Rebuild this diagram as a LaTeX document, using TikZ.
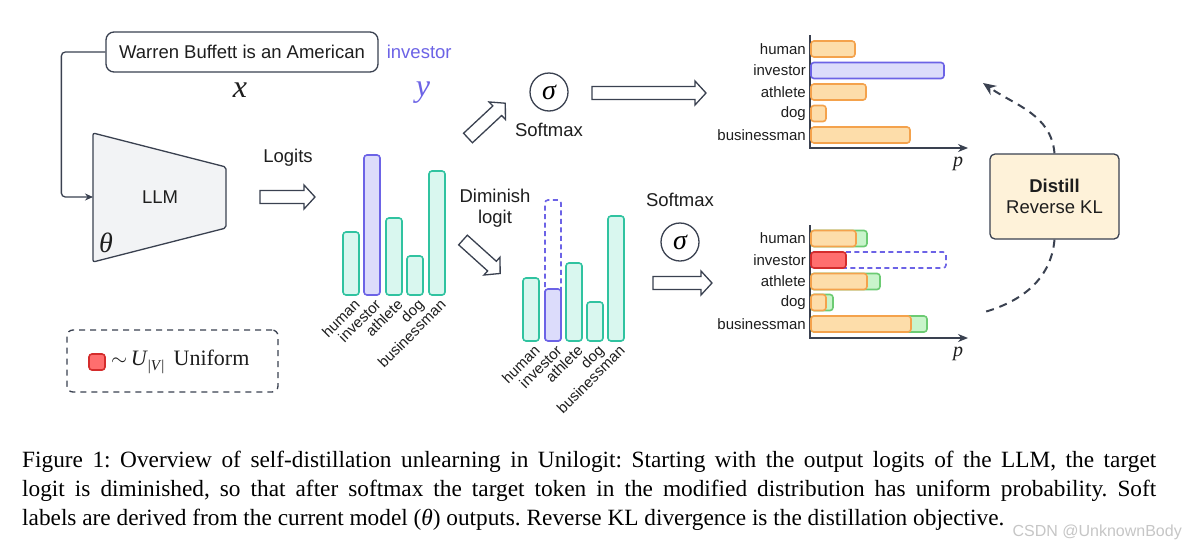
\documentclass[tikz,border=0pt]{standalone}
\usepackage{fontspec}
\setmainfont{Liberation Serif}
\setsansfont{Liberation Sans}
\usetikzlibrary{arrows.meta,positioning}
\definecolor{Ink}{HTML}{3A4150}
\definecolor{TextInk}{HTML}{1E1E1E}
\definecolor{TealLine}{HTML}{30C3A0}
\definecolor{TealFill}{HTML}{D9F7EF}
\definecolor{VioletLine}{HTML}{6C63E6}
\definecolor{VioletFill}{HTML}{DCDCFB}
\definecolor{OrangeLine}{HTML}{F4A24C}
\definecolor{OrangeFill}{HTML}{FDDDAA}
\definecolor{GreenLine}{HTML}{6CCB73}
\definecolor{GreenFill}{HTML}{C9F4CB}
\definecolor{RedLine}{HTML}{D42C2C}
\definecolor{RedFill}{HTML}{FF6E6E}
\definecolor{DistillFill}{HTML}{FEF2D9}
\definecolor{LLMFill}{HTML}{F2F3F5}
\tikzset{
  lab/.style={font=\sffamily\fontsize{18.5}{21}\selectfont, text=TextInk, inner sep=0pt, align=center},
  barlab/.style={font=\sffamily\fontsize{15}{16}\selectfont, text=TextInk, inner sep=0pt},
  varlab/.style={font=\itshape\fontsize{32}{34}\selectfont, text=TextInk, inner sep=0pt},
  bar/.style={line width=1.6pt, rounded corners=3pt},
  tealbar/.style={bar, draw=TealLine, fill=TealFill},
  violetbar/.style={bar, draw=VioletLine, fill=VioletFill},
  orangebar/.style={bar, draw=OrangeLine, fill=OrangeFill},
  greenbar/.style={bar, draw=GreenLine, fill=GreenFill},
  redbar/.style={bar, draw=RedLine, fill=RedFill},
  ghostbar/.style={bar, draw=VioletLine, dash pattern=on 5pt off 3.5pt},
  hollowline/.style={draw=Ink, fill=white, line width=1.3pt, line join=miter},
  pics/blockarrow/.style={code={
    \draw[hollowline] (0,-6.5) -- (#1-11,-6.5) -- (#1-11,-12) -- (#1,0) -- (#1-11,12)
      -- (#1-11,6.5) -- (0,6.5) -- cycle;}},
  sigmacirc/.style={circle, draw=Ink, line width=1.3pt, minimum size=38pt, inner sep=0pt,
    font=\itshape\fontsize{28}{30}\selectfont},
  promptbox/.style={draw=Ink, line width=1.3pt, rounded corners=8pt, minimum width=272pt, minimum height=40pt},
  distillbox/.style={draw=Ink, line width=1.3pt, fill=DistillFill, rounded corners=5pt,
    minimum width=129pt, minimum height=85pt},
  legendbox/.style={draw=Ink, line width=1.3pt, dash pattern=on 6pt off 5pt, rounded corners=6pt,
    minimum width=211pt, minimum height=62pt},
  axisline/.style={draw=Ink, line width=1.2pt},
  feedline/.style={draw=Ink, line width=1.3pt, rounded corners=4pt, -{Stealth[length=8pt,width=7pt]}},
  dasharc/.style={draw=Ink, line width=2pt, dash pattern=on 8pt off 6pt},
}
\begin{document}
\begin{tikzpicture}[x=1pt, y=-1pt]
  \useasboundingbox[fill=white] (0,0) rectangle (1186,552);
  % input prompt and LLM
  \node[promptbox, lab] (prompt) at (242,52) {Warren Buffett is an American};
  \node[lab, text=VioletLine, right=8pt of prompt] (target) {investor};
  \node[varlab] (xvar) at (240,90) {x};
  \node[varlab, text=VioletLine] (yvar) at (423,93) {y};
  \draw[draw=Ink, fill=LLMFill, line width=1.3pt, rounded corners=2pt]
    (93,133) -- (226,167) -- (226,228) -- (93,262) -- cycle;
  \node[lab] (llm) at (160,197) {LLM};
  \node[varlab, font=\itshape\fontsize{28}{30}\selectfont] (theta) at (106,243) {θ};
  \coordinate (llmin) at (93,197);
  \draw[feedline] (prompt.west) -- ++(-44,0) |- (llmin);
  % logits
  \node[lab] (logits) at (288,158) {Logits};
  \pic (arrlog) at (260,197) {blockarrow=55};
  \foreach \xl/\top/\sty/\lab in {343/232/tealbar/human, 364/155/violetbar/investor,
      386/218/tealbar/athlete, 407/256/tealbar/dog, 429/171/tealbar/businessman}{
    \draw[\sty] (\xl,295) rectangle (\xl+16,\top);
    \node[barlab, rotate=45, anchor=north east] (lg-\lab) at (\xl+10,298) {\lab};
  }
  % diminished logits
  \pic[rotate=-42] (arrdim) at (463,240) {blockarrow=50};
  \node[lab] (diminish) at (495,208) {Diminish\\logit};
  \draw[ghostbar] (545,341) rectangle (561,200);
  \foreach \xl/\top/\sty/\lab in {523/278/tealbar/human, 545/289/violetbar/investor,
      566/263/tealbar/athlete, 587/302/tealbar/dog, 608/216/tealbar/businessman}{
    \draw[\sty] (\xl,341) rectangle (\xl+16,\top);
    \node[barlab, rotate=45, anchor=north east] (dm-\lab) at (\xl+10,344) {\lab};
  }
  % softmax of the teacher logits
  \pic[rotate=43] (arrsoft) at (468,138) {blockarrow=51};
  \node[sigmacirc] (sigtop) at (549,92) {σ};
  \node[lab] (softtop) at (549,130) {Softmax};
  \pic (arrtop) at (592,93) {blockarrow=114};
  \draw[axisline, -{Stealth[length=10pt,width=8pt]}] (810,35) |- (968,148);
  \node[varlab, font=\itshape\fontsize{20}{22}\selectfont] (ptop) at (958,164) {p};
  \foreach \lab/\yc/\xr/\sty in {human/49/855/orangebar, investor/70.5/944/violetbar,
      athlete/92/866/orangebar, dog/113.5/826/orangebar, businessman/135/910/orangebar}{
    \draw[\sty] (811,\yc-8) rectangle (\xr,\yc+8);
    \node[barlab, anchor=east] (tp-\lab) at (806,\yc) {\lab};
  }
  % softmax of the diminished logits
  \node[lab] (softbot) at (680,200) {Softmax};
  \node[sigmacirc] (sigbot) at (680,242) {σ};
  \pic (arrbot) at (653,283) {blockarrow=59};
  \draw[axisline, -{Stealth[length=10pt,width=8pt]}] (810,225) |- (968,338);
  \node[varlab, font=\itshape\fontsize{20}{22}\selectfont] (pbot) at (958,354) {p};
  \foreach \lab/\yc/\xo/\xg in {human/238.5/856/867, athlete/281.5/867/880,
      dog/302.5/826/833, businessman/324/911/927}{
    \draw[greenbar] (811,\yc-8) rectangle (\xg,\yc+8);
    \draw[orangebar] (811,\yc-8) rectangle (\xo,\yc+8);
  }
  \draw[ghostbar] (811,252) rectangle (946,268);
  \draw[redbar] (811,252) rectangle (846,268);
  \foreach \lab/\yc in {human/238.5, investor/260, athlete/281.5, dog/302.5, businessman/324}
    \node[barlab, anchor=east] (bt-\lab) at (806,\yc) {\lab};
  % distillation
  \node[distillbox, lab] (distill) at (1054.5,196.5) {\textbf{Distill}\\Reverse KL};
  \coordinate (teacherend) at (983,83);
  \coordinate (studentend) at (981,313);
  \draw[dasharc, -{Stealth[length=13pt,width=11pt]}] (distill.north) to[out=95, in=-35] (teacherend);
  \draw[dasharc] (distill.south) to[out=-95, in=15] (studentend);
  % legend
  \node[legendbox] (legend) at (172.5,361) {};
  \node[redbar, minimum size=16pt, inner sep=0pt] (unisq) at (97,362) {};
  \node[font=\fontsize{22}{24}\selectfont, text=TextInk, inner sep=0pt, right=5pt of unisq] (unitext)
    {$\sim$\,\textit{U}\raisebox{-5pt}{\fontsize{15}{15}\selectfont|\textit{V}|}\, Uniform};
  % caption
  \node[anchor=north west, inner sep=0pt, text width=1134pt, align=justify,
    font=\frenchspacing\fontsize{23.3}{29}\selectfont, text=black] (caption) at (22,451)
    {Figure 1: Overview of self-distillation unlearning in Unilogit: Starting with the output logits of the LLM, the target\linebreak
     logit is diminished, so that after softmax the target token in the modified distribution has uniform probability. Soft\linebreak
     labels are derived from the current model (\textit{θ}) outputs. Reverse KL divergence is the distillation objective.};
  \node[font=\sffamily\fontsize{16}{18}\selectfont, text=gray!45, anchor=east, inner sep=0pt] (mark) at (1182,532)
    {CSDN @UnknownBody};
\end{tikzpicture}
\end{document}
